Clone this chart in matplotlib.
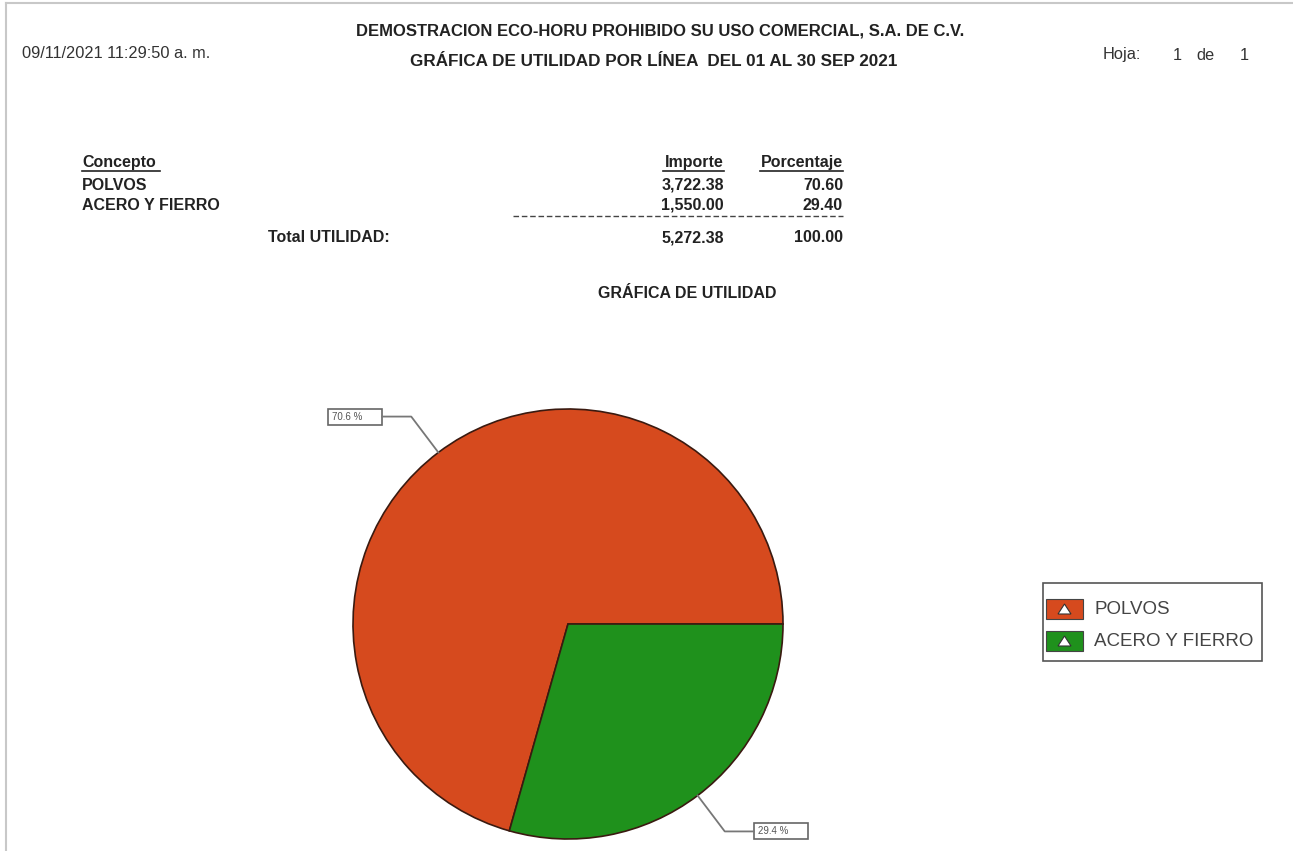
import numpy as np
import matplotlib.pyplot as plt
from matplotlib.patches import Rectangle, Polygon

plt.rcParams['font.family'] = ['Liberation Sans', 'DejaVu Sans']

# datos
conceptos = ["POLVOS", "ACERO Y FIERRO"]
importes = [3722.38, 1550.00]
porcentajes = [70.60, 29.40]
total_importe = 5272.38
total_porcentaje = 100.00
colores = ["#d64a1e", "#1f911c"]

W, H = 1293, 851
fig = plt.figure(figsize=(W / 100, H / 100), dpi=100)
ax = fig.add_axes([0, 0, 1, 1])


def Y(py):
    # coordenadas de pixel (origen arriba) -> datos
    return H - py


txt_col = "#222222"
fs = 11.5

# marco de la hoja
ax.plot([6, W], [Y(3), Y(3)], color="#c8c8c8", lw=1.5)
ax.plot([6, 6], [Y(3), 0], color="#c8c8c8", lw=1.5)

# encabezado
ax.text(660, Y(31), "DEMOSTRACION ECO-HORU PROHIBIDO SU USO COMERCIAL, S.A. DE C.V.",
        ha="center", va="center", fontsize=12, fontweight="bold", color=txt_col)
ax.text(22, Y(54), "09/11/2021 11:29:50 a. m.", ha="left", va="center", fontsize=11.8, color="#333333")
ax.text(1103, Y(55), "Hoja:", ha="left", va="center", fontsize=11.8, color="#333333")
ax.text(1182, Y(55), "1", ha="right", va="center", fontsize=11.8, color="#333333")
ax.text(1196, Y(55), "de", ha="left", va="center", fontsize=11.8, color="#333333")
ax.text(1249, Y(55), "1", ha="right", va="center", fontsize=11.8, color="#333333")
ax.text(654, Y(62), "GRÁFICA DE UTILIDAD POR LÍNEA  DEL 01 AL 30 SEP 2021",
        ha="center", va="center", fontsize=12.3, fontweight="bold", color=txt_col)

# tabla
for txt, x, ha in [("Concepto", 82, "left"), ("Importe", 724, "right"), ("Porcentaje", 843, "right")]:
    ax.text(x, Y(162), txt, ha=ha, va="center", fontsize=fs, fontweight="bold", color=txt_col)
ax.plot([82, 160], [Y(171), Y(171)], color=txt_col, lw=1.2)
ax.plot([663, 724], [Y(171), Y(171)], color=txt_col, lw=1.2)
ax.plot([760, 843], [Y(171), Y(171)], color=txt_col, lw=1.2)

for i, (c, imp, pct) in enumerate(zip(conceptos, importes, porcentajes)):
    yy = Y(185 + i * 20)
    ax.text(82, yy, c, ha="left", va="center", fontsize=fs, fontweight="bold", color=txt_col)
    ax.text(724, yy, f"{imp:,.2f}", ha="right", va="center", fontsize=fs, fontweight="bold", color=txt_col)
    ax.text(843, yy, f"{pct:.2f}", ha="right", va="center", fontsize=fs, fontweight="bold", color=txt_col)
ax.plot([513, 843], [Y(216), Y(216)], color="#444444", lw=1, ls=(0, (4, 2)))
ax.text(268, Y(238), "Total UTILIDAD:", ha="left", va="center", fontsize=fs, fontweight="bold", color=txt_col)
ax.text(724, Y(238), f"{total_importe:,.2f}", ha="right", va="center", fontsize=fs, fontweight="bold", color=txt_col)
ax.text(843, Y(238), f"{total_porcentaje:.2f}", ha="right", va="center", fontsize=fs, fontweight="bold", color=txt_col)

ax.text(687, Y(294), "GRÁFICA DE UTILIDAD", ha="center", va="center", fontsize=fs, fontweight="bold", color=txt_col)

# pastel
cx, cy, r = 568, 624, 215
ax.pie(importes, colors=colores, startangle=0, counterclock=True,
       center=(cx, Y(cy)), radius=r, frame=True,
       wedgeprops=dict(edgecolor="#3a1a10", linewidth=1.2))

# etiquetas con lineas guia
ang0 = 0.0
for pct in porcentajes:
    ang = np.deg2rad(ang0 + pct * 3.6 / 2)
    ang0 += pct * 3.6
    ex, ey = cx + r * np.cos(ang), cy - r * np.sin(ang)
    kx, ky = ex + 45 * np.cos(ang), ey - 45 * np.sin(ang)
    side = -1 if np.cos(ang) < 0 else 1
    bx = kx + side * 29
    ax.plot([ex, kx, bx], [Y(ey), Y(ky), Y(ky)], color="#777777", lw=1.3)
    x0 = bx - 54 if side < 0 else bx
    ax.add_patch(Rectangle((x0, Y(ky + 8)), 54, 16, facecolor="white", edgecolor="#666666", lw=1.2))
    ax.text(x0 + 4, Y(ky), f"{pct:.1f} %", ha="left", va="center", fontsize=7, color="#555555")

# leyenda
ax.add_patch(Rectangle((1043, Y(661)), 219, 78, facecolor="white", edgecolor="#555555", lw=1.2))
for i, (c, col) in enumerate(zip(conceptos, colores)):
    yc = 609 + i * 32
    ax.add_patch(Rectangle((1046, Y(yc + 10)), 37, 20, facecolor=col, edgecolor="#444444", lw=0.8))
    ax.add_patch(Polygon([(1058, Y(yc + 5)), (1071, Y(yc + 5)), (1064.5, Y(yc - 5))],
                         closed=True, facecolor="white", edgecolor="#333333", lw=0.8))
    ax.text(1094, Y(yc), c, ha="left", va="center", fontsize=13.5, color="#444444")

ax.set_xlim(0, W)
ax.set_ylim(0, H)
ax.set_aspect("auto")
ax.axis("off")

fig.savefig("out.png", dpi=100, facecolor="white")
